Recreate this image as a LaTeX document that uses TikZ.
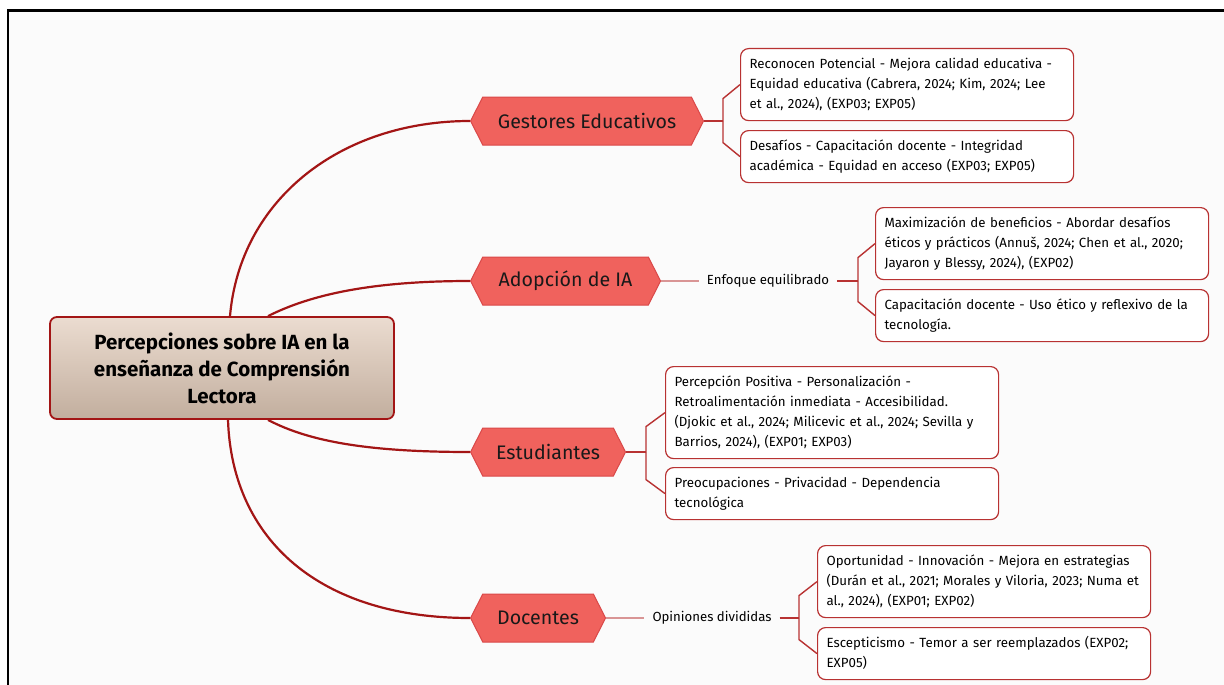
\documentclass[tikz,border=0pt]{standalone}
\usepackage{fontspec}
\setmainfont{Fira Sans}
\usetikzlibrary{shapes.symbols}
\definecolor{pagebg}{HTML}{FBFBFB}
\definecolor{linkred}{HTML}{A31515}
\definecolor{boxred}{HTML}{B83232}
\definecolor{hexfill}{HTML}{F0625D}
\definecolor{hexdraw}{HTML}{D94848}
\definecolor{thinpink}{HTML}{D99595}
\definecolor{roottop}{HTML}{EBDCD0}
\definecolor{rootbot}{HTML}{C2AE9E}
\begin{document}
\begin{tikzpicture}
[
 x=1pt, y=-1pt,
 ROOT/.style={rectangle, rounded corners=7pt, draw=linkred, line width=1.8pt, top color=roottop, bottom color=rootbot, minimum width=344pt, minimum height=102pt, align=center, font=\fontsize{20.5}{27}\selectfont\bfseries},
 TOPIC/.style={signal, signal to=west and east, signal pointer angle=126, draw=hexdraw, fill=hexfill, line width=1pt, minimum height=48pt, inner xsep=0pt, anchor=west, text=black!90, font=\fontsize{19.6}{22}\selectfont},
 NOTE/.style={rectangle, rounded corners=8pt, draw=boxred, line width=1.2pt, fill=white, text width=315pt, inner xsep=9pt, inner ysep=6pt, align=left, anchor=north west, font=\fontsize{13.3}{20}\selectfont, execute at begin node=\strut, execute at end node=\strut},
 LABEL/.style={inner xsep=8pt, inner ysep=2pt, font=\fontsize{13.2}{15}\selectfont},
 LINK/.style={draw=linkred, line width=2.2pt},
 TWIG/.style={draw=boxred, line width=1.4pt},
 THIN/.style={draw=thinpink, line width=1.4pt},
]
%
\useasboundingbox (0,0) rectangle (1224,685);
\fill [pagebg] (8,10.5) rectangle (1224,685);
\draw [line width=2.2pt] (8,685) -- (8,10.5) -- (1224,10.5);
%
\node [ROOT]  (RT)  at (222,368)  {Percepciones sobre IA en la\\enseñanza de Comprensión\\Lectora};
%
\node [TOPIC, minimum width=233pt]  (GE)  at (470,121)  {Gestores Educativos};
\node [TOPIC, minimum width=190pt]  (AI)  at (470,281)  {Adopción de IA};
\node [TOPIC, minimum width=155pt]  (ES)  at (470,452)  {Estudiantes};
\node [TOPIC, minimum width=135pt]  (DO)  at (470,618)  {Docentes};
%
\draw [LINK]  ([xshift=8pt]RT.north)  .. controls (240,200) and (340,121) .. (GE.west);
\draw [LINK]  ([xshift=46pt]RT.north) .. controls (310,295) and (370,281) .. (AI.west);
\draw [LINK]  ([xshift=46pt]RT.south) .. controls (310,442) and (370,452) .. (ES.west);
\draw [LINK]  ([xshift=6pt]RT.south)  .. controls (232,540) and (320,618) .. (DO.west);
%
\node [LABEL]  (AL)  at (768,281)  {Enfoque equilibrado};
\node [LABEL]  (DL)  at (712,618)  {Opiniones divididas};
%
\node [NOTE]  (G1)  at (740,48)   {Reconocen Potencial - Mejora calidad educativa -\\Equidad educativa (Cabrera, 2024; Kim, 2024; Lee\\et al., 2024), (EXP03; EXP05)};
\node [NOTE]  (G2)  at (740,130)  {Desafíos - Capacitación docente - Integridad\\académica - Equidad en acceso (EXP03; EXP05)};
%
\node [NOTE]  (A1)  at (875,207)  {Maximización de beneficios - Abordar desafíos\\éticos y prácticos (Annuš, 2024; Chen et al., 2020;\\Jayaron y Blessy, 2024), (EXP02)};
\node [NOTE]  (A2)  at (875,289)  {Capacitación docente - Uso ético y reflexivo de la\\tecnología.};
%
\node [NOTE]  (E1)  at (665,366)  {Percepción Positiva - Personalización -\\Retroalimentación inmediata - Accesibilidad.\\(Djokic et al., 2024; Milicevic et al., 2024; Sevilla y\\Barrios, 2024), (EXP01; EXP03)};
\node [NOTE]  (E2)  at (665,467)  {Preocupaciones - Privacidad - Dependencia\\tecnológica};
%
\node [NOTE]  (D1)  at (817,545)  {Oportunidad - Innovación - Mejora en estrategias\\(Durán et al., 2021; Morales y Viloria, 2023; Numa et\\al., 2024), (EXP01; EXP02)};
\node [NOTE]  (D2)  at (817,627)  {Escepticismo - Temor a ser reemplazados (EXP02;\\EXP05)};
%
\coordinate (JG) at (723,121);
\coordinate (JA) at (858,281);
\coordinate (JE) at (646,452);
\coordinate (JD) at (799,618);
%
\draw [TWIG]  (GE.east) -- (JG);
\draw [TWIG]  (G1.west) -- ++(-17,14)  -- (JG);
\draw [TWIG]  (G2.west) -- ++(-17,-14) -- (JG);
%
\draw [THIN]  (AI.east) -- (AL.west);
\draw [TWIG]  (AL.east) -- (JA);
\draw [TWIG]  (A1.west) -- ++(-17,14)  -- (JA);
\draw [TWIG]  (A2.west) -- ++(-17,-14) -- (JA);
%
\draw [TWIG]  (ES.east) -- (JE);
\draw [TWIG]  (E1.west) -- ++(-19,14)  -- (JE);
\draw [TWIG]  (E2.west) -- ++(-19,-14) -- (JE);
%
\draw [THIN]  (DO.east) -- (DL.west);
\draw [TWIG]  (DL.east) -- (JD);
\draw [TWIG]  (D1.west) -- ++(-18,14)  -- (JD);
\draw [TWIG]  (D2.west) -- ++(-18,-14) -- (JD);
%
\end{tikzpicture}
\end{document}
